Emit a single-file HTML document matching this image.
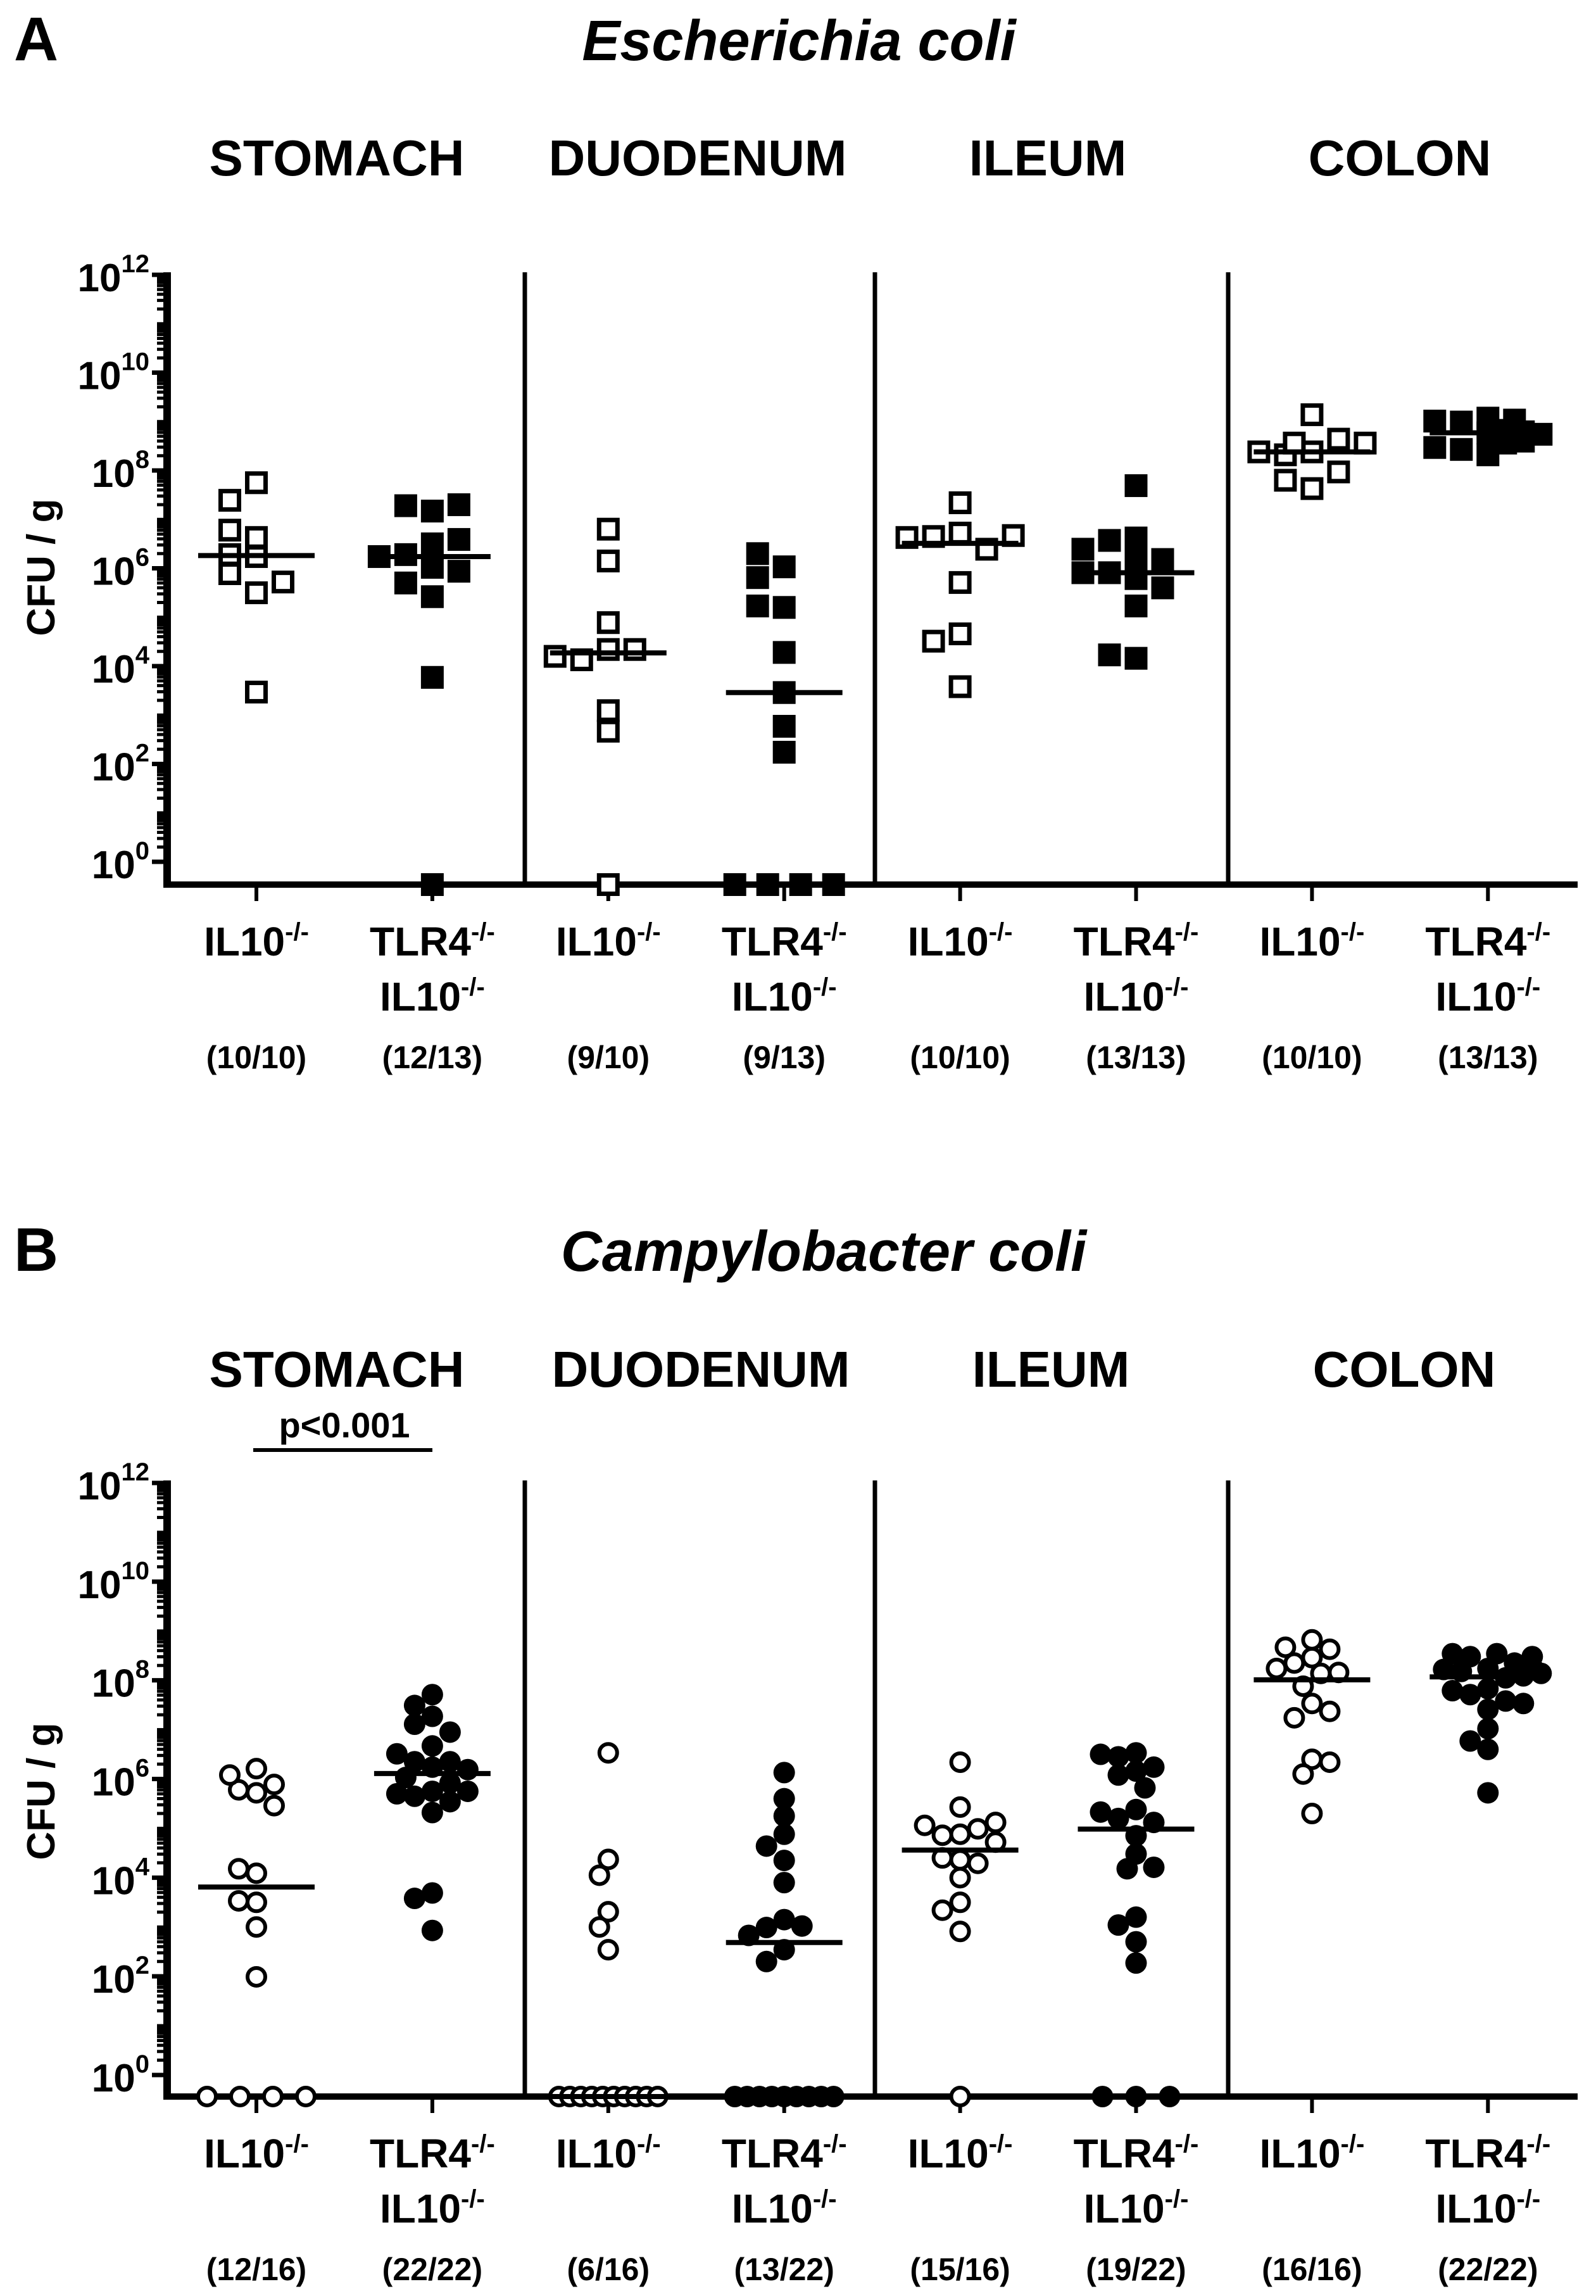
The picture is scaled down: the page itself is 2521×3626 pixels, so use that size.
<!DOCTYPE html>
<html><head><meta charset="utf-8"><title>E. coli and C. coli CFU</title>
<style>
html,body{margin:0;padding:0;background:#fff;}
svg{display:block;font-family:"Liberation Sans",Arial,sans-serif;font-weight:bold;}
</style></head>
<body>
<svg id="fig" xmlns="http://www.w3.org/2000/svg" width="2521" height="3626" viewBox="0 0 2521 3626">
<rect width="2521" height="3626" fill="#fff"/>
<text x="22" y="95" font-size="97">A</text>
<text x="1262" y="95" font-size="90" font-style="italic" text-anchor="middle">Escherichia coli</text>
<g font-size="80" text-anchor="middle">
<text x="532" y="277">STOMACH</text>
<text x="1102" y="277">DUODENUM</text>
<text x="1655" y="277">ILEUM</text>
<text x="2211" y="277">COLON</text>
</g>
<text transform="translate(86,896) rotate(-90)" font-size="62" text-anchor="middle">CFU / g</text>
<text x="22" y="2007" font-size="97">B</text>
<text x="1301" y="2007" font-size="90" font-style="italic" text-anchor="middle">Campylobacter coli</text>
<g font-size="80" text-anchor="middle">
<text x="532" y="2190">STOMACH</text>
<text x="1107" y="2190">DUODENUM</text>
<text x="1660" y="2190">ILEUM</text>
<text x="2218" y="2190">COLON</text>
</g>
<text x="544" y="2270" font-size="56" text-anchor="middle">p&lt;0.001</text>
<line x1="400" y1="2290" x2="683" y2="2290" stroke="#000" stroke-width="6"/>
<text transform="translate(86,2829) rotate(-90)" font-size="62" text-anchor="middle">CFU / g</text>
<g id="marks"></g>
</svg>
<script>
// ---- data (log10 CFU/g; null = below detection limit) ----
const groupLabels = ["IL10", "TLR4", "IL10", "TLR4", "IL10", "TLR4", "IL10", "TLR4"];
const ecoliCounts = ["(10/10)", "(12/13)", "(9/10)", "(9/13)", "(10/10)", "(13/13)", "(10/10)", "(13/13)"];
const campyCounts = ["(12/16)", "(22/22)", "(6/16)", "(13/22)", "(15/16)", "(19/22)", "(16/16)", "(22/22)"];
const tickExponents = [0, 2, 4, 6, 8, 10, 12];

const ecoliStomachIL10 = [7.75, 7.39, 6.63, 6.24, 5.89, 6.28, 5.50, 6.78, 5.72, 3.47];
const ecoliStomachTLR4 = [7.17, 6.50, 6.02, 7.28, 6.28, 5.94, 5.42, 3.77, 7.30, 6.59, 6.24, 5.70, null];
const ecoliDuodIL10 = [6.80, 6.15, 4.89, 4.34, 4.13, 4.34, 4.20, 3.09, 2.67, null];
const ecoliDuodTLR4 = [6.03, 6.30, 5.81, 5.20, 5.23, 4.28, 3.46, 2.77, 2.24, null, null, null, null];
const ecoliIleumIL10 = [7.34, 6.72, 6.65, 6.39, 6.63, 6.67, 5.71, 4.66, 4.51, 3.58];
const ecoliIleumTLR4 = [7.69, 6.62, 6.21, 5.79, 5.91, 6.57, 6.18, 5.60, 6.39, 5.91, 5.23, 4.16, 4.23];
const ecoliColonIL10 = [9.14, 8.38, 8.32, 8.64, 8.38, 8.56, 8.56, 7.63, 7.80, 7.97];
const ecoliColonTLR4 = [9.07, 8.99, 9.03, 9.01, 8.74, 8.77, 8.82, 8.79, 8.32, 8.43, 8.47, 8.56, 8.60];

const campyStomachIL10 = [6.21, 5.72, 5.78, 5.89, 5.46, 6.08, 4.09, 4.18, 3.50, 3.53, 3.00, 1.99, null, null, null, null];
const campyStomachTLR4 = [7.71, 7.49, 7.27, 7.11, 6.67, 6.95, 6.24, 6.35, 6.35, 6.51, 6.19, 5.75, 5.65, 5.54, 5.32, 5.70, 5.75, 5.92, 3.69, 3.58, 2.93, 6.03];
const campyDuodIL10 = [6.53, 4.37, 4.05, 3.31, 3.00, 2.54, null, null, null, null, null, null, null, null, null, null];
const campyDuodTLR4 = [6.13, 5.60, 5.25, 4.88, 4.64, 4.35, 3.90, 3.15, 2.99, 3.02, 2.54, 2.30, 2.83, null, null, null, null, null, null, null, null, null];
const campyIleumIL10 = [6.34, 5.43, 4.88, 4.86, 4.99, 5.06, 5.12, 4.72, 4.36, 4.40, 4.29, 4.00, 3.50, 3.34, 2.91, null];
const campyIleumTLR4 = [6.53, 6.16, 6.45, 6.08, 6.24, 5.82, 6.50, 5.38, 5.20, 5.12, 5.33, 4.85, 4.48, 4.18, 4.21, 3.20, 3.04, 2.70, 2.27, null, null, null];
const campyColonIL10 = [8.46, 8.82, 8.35, 8.63, 8.14, 8.16, 8.67, 8.24, 7.88, 7.53, 7.24, 7.37, 6.40, 6.10, 6.34, 5.30];
const campyColonTLR4 = [8.24, 8.48, 8.54, 8.35, 8.54, 8.48, 7.83, 8.18, 8.05, 8.22, 8.14, 7.71, 7.79, 7.58, 7.53, 7.41, 7.02, 6.60, 6.77, 5.72, 8.27, 8.09];

const ecoliSeries = [ecoliStomachIL10, ecoliStomachTLR4, ecoliDuodIL10, ecoliDuodTLR4, ecoliIleumIL10, ecoliIleumTLR4, ecoliColonIL10, ecoliColonTLR4];
const campySeries = [campyStomachIL10, campyStomachTLR4, campyDuodIL10, campyDuodTLR4, campyIleumIL10, campyIleumTLR4, campyColonIL10, campyColonTLR4];

// ---- layout ----
const NS = "http://www.w3.org/2000/svg";
const root = document.getElementById("marks");
const axisLeft = 264, axisRight = 2492;
const groupX = i => 405 + i * 277.9;
const dividerX = [829, 1382, 1940];

function mk(tag, attrs, parent) {
  const e = document.createElementNS(NS, tag);
  for (const k in attrs) e.setAttribute(k, attrs[k]);
  (parent || root).appendChild(e);
  return e;
}

function drawPanel(cfg) {
  const g = mk("g", {});
  
  
  const y = v => cfg.y0 - v * (cfg.y0 - cfg.y12) / 12;

  const ya = mk("line", {x1: axisLeft, y1: cfg.y12 - 4, x2: axisLeft, y2: cfg.axisY + 4, stroke: "#000", "stroke-width": 12}, g);
  
  
  for (let e = 0; e <= 12; e++) {
    for (let k = 1; k <= 9; k++) {
      if (e === 12 && k > 1) break;
      const v = e + Math.log10(k);
      const major = (k === 1 && e % 2 === 0);
      const t = mk("line", {x1: major ? 240 : 248, x2: axisLeft, y1: y(v), y2: y(v), stroke: "#000", "stroke-width": major ? 7 : 5}, g);
      
      
    }
  }
  tickExponents.forEach(ex => {
    const t = mk("text", {x: 236, y: y(ex) + 26, "font-size": 62, "text-anchor": "end"}, g);
    
    
    t.appendChild(document.createTextNode("10"));
    const s = mk("tspan", {dy: -30, "font-size": 40}, t);
    s.textContent = String(ex);
  });
  const xa = mk("line", {x1: axisLeft - 6, y1: cfg.axisY, x2: axisRight, y2: cfg.axisY, stroke: "#000", "stroke-width": 10}, g);
  
  
  dividerX.forEach(dx => {
    const d = mk("line", {x1: dx, y1: cfg.y12 - 4, x2: dx, y2: cfg.axisY, stroke: "#000", "stroke-width": 7}, g);
    
    
  });

  cfg.series.forEach((vals, i) => {
    const cx = groupX(i);
    const tk = mk("line", {x1: cx, y1: cfg.axisY, x2: cx, y2: cfg.axisY + 26, stroke: "#000", "stroke-width": 6}, g);
    
    
    const l1 = mk("text", {x: cx, y: cfg.axisY + 112, "font-size": 64, "text-anchor": "middle"}, g);
    
    
    l1.appendChild(document.createTextNode(groupLabels[i]));
    const s1 = mk("tspan", {dy: -24, "font-size": 40}, l1);
    s1.textContent = "-/-";
    if (groupLabels[i] === "TLR4") {
      const l2 = mk("text", {x: cx, y: cfg.axisY + 199, "font-size": 64, "text-anchor": "middle"}, g);
      
      
      l2.appendChild(document.createTextNode("IL10"));
      const s2 = mk("tspan", {dy: -24, "font-size": 40}, l2);
      s2.textContent = "-/-";
    }
    const c = mk("text", {x: cx, y: cfg.axisY + 290, "font-size": 50, "text-anchor": "middle"}, g);
    
    
    c.textContent = cfg.counts[i];

    // points: bounded beeswarm (overlap allowed when crowded)
    const filled = (i % 2 === 1);
    const size = cfg.shape === "square" ? 36 : 34;
    const thr = size * 0.8;
    const placed = [];
    const detected = vals.filter(v => v !== null);
    const nd = vals.length - detected.length;
    const cands = [0];
    for (let m = 14; m <= 84; m += 14) { cands.push(-m, m); }
    detected.forEach(v => {
      const py = y(v);
      let best = 0, bestScore = -1;
      for (const m of cands) {
        let minD = Infinity;
        placed.forEach(p => {
          const dx = Math.abs(p.x - (cx + m)), dy = Math.abs(p.y - py);
          const d = cfg.shape === "square" ? Math.max(dx, dy) : Math.hypot(dx, dy);
          if (d < minD) minD = d;
        });
        if (minD >= thr) { best = m; bestScore = Infinity; break; }
        if (minD > bestScore) { bestScore = minD; best = m; }
      }
      placed.push({x: cx + best, y: py});
    });
    const spacing = nd > 1 ? Math.min(53, 156 / (nd - 1)) : 0;
    for (let k = 0; k < nd; k++) {
      placed.push({x: cx + (k - (nd - 1) / 2) * spacing, y: cfg.axisY});
    }
    placed.forEach(p => {
      let m;
      if (cfg.shape === "square") {
        m = mk("rect", filled ? {x: p.x - 18, y: p.y - 18, width: 36, height: 36, fill: "#000"}
                              : {x: p.x - 14.5, y: p.y - 14.5, width: 29, height: 29, fill: "#fff", stroke: "#000", "stroke-width": 7}, g);
      } else {
        m = mk("circle", filled ? {cx: p.x, cy: p.y, r: 17, fill: "#000"}
                                : {cx: p.x, cy: p.y, r: 14, fill: "#fff", stroke: "#000", "stroke-width": 6}, g);
      }
      
      
    });
    const sorted = vals.map(v => v === null ? -Infinity : v).sort((a, b) => a - b);
    const n = sorted.length;
    const med = n % 2 ? sorted[(n - 1) / 2] : (sorted[n / 2 - 1] + sorted[n / 2]) / 2;
    const my = isFinite(med) ? y(med) : cfg.axisY;
    const ml = mk("line", {x1: cx - 92, x2: cx + 92, y1: my, y2: my, stroke: "#000", "stroke-width": 8}, g);
    
    
  });
}

drawPanel({name: "panel-a-chart", y12: 434, y0: 1361, axisY: 1397, series: ecoliSeries, counts: ecoliCounts, shape: "square"});
drawPanel({name: "panel-b-chart", y12: 2342, y0: 3277, axisY: 3311, series: campySeries, counts: campyCounts, shape: "circle"});
</script>
</body></html>
